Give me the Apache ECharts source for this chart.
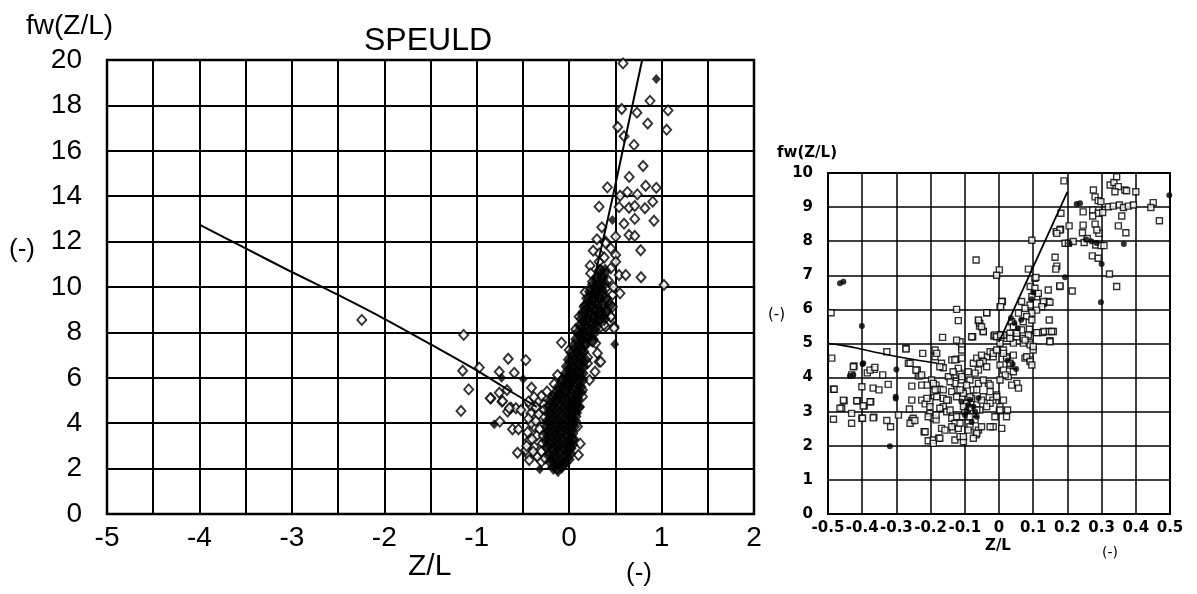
<!DOCTYPE html>
<html><head><meta charset="utf-8">
<script src="https://cdn.jsdelivr.net/npm/echarts@6/dist/echarts.min.js"></script>
<style>html,body{margin:0;padding:0;background:#fff}#c{width:1197px;height:594px}</style>
</head><body><div id="c"></div>
<script>
// ---- Left panel (SPEULD, full range) ----
const leftXTicks = [-5,-4,-3,-2,-1,0,1,2];
const leftYTicks = [0,2,4,6,8,10,12,14,16,18,20];
const leftOpen = [
[0.583,19.85],[0.875,18.2],[0.569,17.84],[0.734,17.68],[1.07,17.78],[0.85,17.2],[1.055,16.93],[0.526,17.05],
[0.594,16.64],[0.702,16.26],[0.80,15.33],[0.65,14.85],[0.414,14.39],[0.828,14.46],[0.943,14.37],[0.63,14.18],
[0.551,14.02],[0.738,14.08],[0.904,13.76],[0.324,13.54],[0.54,13.52],[0.648,13.49],[0.71,13.57],[0.82,13.47],
[0.918,12.92],[0.594,12.79],[0.71,13.0],[0.353,12.63],[0.648,12.29],[0.71,12.25],[0.504,12.22],[0.774,11.62],
[0.395,12.0],[0.45,11.7],[0.504,11.41],[0.227,10.94],[0.324,11.11],[0.342,10.75],[0.45,10.82],[0.504,11.11],
[0.54,10.53],[0.612,10.53],[0.778,10.43],[1.026,10.09],[0.173,9.77],[0.55,9.72],[0.252,10.23],[0.288,9.94],
[0.395,9.94],[0.468,9.65],[0.233,10.6],[0.324,11.48],[0.395,11.93],[0.45,8.69],[0.486,8.25],[0.108,8.69],
[0.162,9.13],[0.252,9.43],[0.324,8.84],[0.395,8.25],[0.468,9.13],[0.486,8.18],[0.342,8.25],[0.288,7.52],
[0.306,7.08],[0.324,6.71],[0.28,6.27],[0.18,7.52],[0.198,6.64],[0.126,7.22],[0.144,5.46],[0.108,6.2],
[0.083,8.03],[-0.083,7.55],[0.0,7.22],[-1.141,7.89],[-1.152,6.31],[-0.972,6.45],[-1.087,5.49],[-1.17,4.54],
[-0.659,6.84],[-0.468,6.78],[-0.756,6.27],[-0.594,6.22],[-0.407,5.56],[-0.673,5.46],[-0.846,5.1],[-0.727,4.95],
[-0.63,4.68],[-0.576,4.66],[-0.522,4.58],[-0.666,4.51],[-0.75,4.07],[-0.613,3.73],[-0.548,3.73],[-0.559,2.7],
[-0.451,2.64],[-0.36,2.6],[-0.126,2.01],[-2.243,8.55],[-0.853,5.1],[-0.756,5.34],[-0.72,4.98],[-0.648,4.66],
[-0.126,6.12],[-0.072,5.9],[-0.162,5.73],[0.072,8.14],[0.144,8.77],[0.18,8.99],[0.252,7.59],[0.342,6.71],
[0.45,8.69],[0.342,8.55],[0.378,8.33],[0.144,5.17],[0.108,4.73],[0.072,4.29],[0.09,3.85],[0.036,3.26],
[0.018,2.89],[-0.27,4.29],[-0.288,4.88],[-0.324,4.58],[-0.414,4.44],[-0.378,3.85],[-0.432,3.26],[-0.468,2.82],
[-0.432,2.38],[-0.342,2.52],[-0.378,2.96],[-0.288,3.11],[-0.18,5.17],[-0.108,5.24],[-0.144,5.02],[-0.41,4.0],
[-0.35,3.45],[-0.45,3.6],[-0.3,2.3],[-0.42,4.8],[-0.33,5.0],[0.12,3.1],[0.1,2.6],[0.08,4.9],[0.2,6.9],
[0.22,5.9],[0.36,9.6],[0.42,10.3],[0.48,10.0],[0.3,12.1],[0.38,11.3],[0.26,11.6],
[-0.44,4.2],[-0.4,3.3],[-0.36,4.1],[-0.32,3.75],[-0.3,2.75],[-0.28,3.45],[-0.39,2.75],[-0.46,3.0],
[-0.33,4.4],[-0.27,4.6],[-0.36,4.7],[-0.3,5.2],[-0.24,5.4],[-0.26,2.45],[-0.44,4.95],[-0.38,5.15]
];
const leftCore = [
[-0.17,2.05],[-0.12,1.95],[-0.08,2.1],
[-0.2,2.3],[-0.15,2.35],[-0.1,2.3],[-0.05,2.25],[-0.01,2.4],
[-0.22,2.6],[-0.16,2.6],[-0.1,2.7],[-0.04,2.6],[0.01,2.65],
[-0.24,2.95],[-0.18,2.9],[-0.12,2.95],[-0.06,2.9],[0.0,2.95],[0.03,3.05],
[-0.25,3.25],[-0.19,3.2],[-0.13,3.2],[-0.07,3.25],[-0.01,3.2],[0.04,3.3],
[-0.24,3.55],[-0.19,3.5],[-0.14,3.5],[-0.09,3.55],[-0.03,3.5],[0.03,3.55],
[-0.24,3.85],[-0.18,3.8],[-0.12,3.8],[-0.06,3.85],[0.0,3.8],[0.05,3.85],
[-0.23,4.1],[-0.17,4.15],[-0.11,4.1],[-0.05,4.1],[0.01,4.15],[0.06,4.1],
[-0.22,4.45],[-0.16,4.4],[-0.1,4.4],[-0.04,4.45],[0.02,4.4],[0.07,4.45],
[-0.22,4.7],[-0.16,4.7],[-0.1,4.75],[-0.04,4.7],[0.02,4.7],[0.07,4.75],[0.1,4.7],
[-0.2,5.0],[-0.14,5.0],[-0.08,5.05],[-0.02,5.0],[0.04,5.0],[0.09,5.05],
[-0.15,5.3],[-0.1,5.3],[-0.04,5.35],[0.02,5.3],[0.08,5.3],[0.12,5.35],
[-0.11,5.6],[-0.06,5.6],[0.0,5.65],[0.06,5.6],[0.12,5.6],
[-0.07,5.9],[-0.02,5.9],[0.04,5.95],[0.1,5.9],[0.14,5.9],
[-0.03,6.2],[0.02,6.2],[0.08,6.25],[0.14,6.2],
[-0.02,6.5],[0.04,6.5],[0.1,6.55],[0.15,6.5],
[0.0,6.8],[0.06,6.8],[0.12,6.85],[0.17,6.8],
[0.03,7.1],[0.09,7.1],[0.15,7.15],
[0.05,7.4],[0.11,7.4],[0.17,7.45],
[0.08,7.7],[0.14,7.7],[0.2,7.75],[0.25,7.7],
[0.1,8.0],[0.16,8.0],[0.22,8.05],[0.27,8.0],
[0.12,8.3],[0.18,8.3],[0.24,8.35],[0.3,8.3],
[0.14,8.6],[0.2,8.6],[0.26,8.65],[0.32,8.6],[0.38,8.6],
[0.16,8.9],[0.22,8.9],[0.28,8.95],[0.34,8.9],[0.4,8.9],
[0.18,9.2],[0.24,9.2],[0.3,9.25],[0.36,9.2],[0.44,9.2],
[0.2,9.5],[0.26,9.5],[0.32,9.55],[0.4,9.5],
[0.23,9.8],[0.29,9.8],[0.35,9.85],
[0.26,10.1],[0.32,10.1],[0.38,10.15],
[0.3,10.4],[0.36,10.4],
[0.33,10.7],[0.39,10.7]
];
const leftFilled = [[0.943,19.16],[0.468,12.95],[-0.731,6.0],[-0.497,5.95],[-0.81,3.95],[-0.318,1.97],[0.493,7.48]];
const leftUnstableCurve = [[-4,12.75],[-3.5,11.7],[-3,10.66],[-2.5,9.65],[-2,8.6],[-1.5,7.48],[-1,6.33],[-0.6,5.32],[-0.35,4.72]];
const leftStableCurve = [[0,5.3],[0.216,9.35],[0.468,13.9],[0.79,20]];

// ---- Right panel (zoom on -0.5..0.5) ----
const rightXTicks = [-0.5,-0.4,-0.3,-0.2,-0.1,0,0.1,0.2,0.3,0.4,0.5];
const rightYTicks = [0,1,2,3,4,5,6,7,8,9,10];
const rightOpen = [
[-0.491,5.9],[-0.489,4.57],[-0.328,4.76],[-0.272,4.86],[-0.223,4.71],[-0.187,4.81],[-0.187,4.61],[-0.165,5.18],
[-0.124,6.0],[-0.119,5.67],[-0.067,7.45],[-0.036,5.9],[-0.06,5.67],[-0.057,5.51],[-0.046,5.35],[-0.077,5.2],
[-0.114,5.05],[-0.109,4.9],[0.001,7.16],[0.01,6.23],[0.003,6.08],[-0.015,5.22],[0.096,8.03],[0.086,7.18],
[0.105,6.91],[0.144,6.57],[0.129,6.18],[0.144,6.23],[0.11,6.37],[0.147,5.69],[0.159,5.35],[0.144,5.35],
[0.128,5.32],[0.149,5.08],[0.164,7.53],[0.169,7.27],[0.166,7.18],[0.178,6.67],[0.214,6.54],[0.167,8.28],
[0.18,8.35],[0.181,8.82],[0.19,9.77],[0.205,8.45],[0.193,7.94],[0.203,7.94],[0.217,7.99],[0.246,8.86],
[0.274,8.91],[0.29,8.82],[0.303,8.84],[0.274,8.74],[0.244,8.25],[0.249,7.96],[0.258,8.08],[0.283,7.89],
[0.298,7.87],[0.307,7.87],[0.246,8.47],[0.281,8.5],[0.292,8.23],[0.286,8.33],[0.273,7.57],[0.29,7.5],
[0.323,7.04],[0.344,6.67],[0.349,8.45],[0.371,8.25],[0.276,9.5],[0.281,9.3],[0.29,9.19],[0.298,9.16],
[0.325,9.65],[0.336,9.72],[0.344,9.89],[0.349,9.6],[0.339,9.45],[0.368,9.5],[0.373,9.48],[0.4,9.45],
[0.32,9.01],[0.334,9.03],[0.352,9.06],[0.364,8.99],[0.378,9.03],[0.393,9.06],[0.359,8.74],[0.451,9.13],
[0.444,8.99],[0.469,8.6],[0.178,8.33],[0.169,8.23],[0.108,6.94],[0.178,6.69],[0.091,6.67],[0.105,6.62],
[0.115,6.47],[0.096,6.37],[0.13,6.23],[0.149,6.21],[0.125,6.08],[0.11,5.98],[0.091,6.13],[0.076,6.03],
[0.066,6.23],[0.096,5.89],[0.081,5.79],[0.096,5.69],[0.071,5.64],[0.057,5.89],[0.008,6.23],[0.005,6.08],
[0.154,5.35],[0.13,5.35],[0.115,5.32],[0.089,5.42],[0.091,5.2],[0.149,5.05],[0.037,5.64],[0.042,5.49],
[0.032,5.3],[0.052,5.2],[0.066,5.4],[0.042,5.01],[0.023,5.15],[0.008,5.25],[-0.012,5.25],[0.003,5.01],
[0.071,5.01],[0.091,4.96],[0.1,4.81],[0.076,4.57],[0.091,4.52],[0.042,4.66],[0.023,4.61],[0.032,4.37],
[0.003,4.37],[-0.017,4.61],[-0.036,4.61],[-0.051,4.52],[-0.056,5.59],[-0.046,5.35],
[-0.484,3.66],[-0.484,2.78],[-0.46,3.1],[-0.453,3.32],[-0.431,2.95],[-0.431,2.66],[-0.424,4.34],[-0.401,3.73],
[-0.414,3.32],[-0.394,3.17],[-0.401,2.81],[-0.375,3.29],[-0.385,4.14],[-0.365,4.24],[-0.368,3.69],[-0.351,3.64],
[-0.366,2.84],[-0.34,4.08],[-0.328,2.74],[-0.317,2.56],[-0.324,3.8],[-0.294,2.9],[-0.262,3.08],[-0.255,3.34],
[-0.255,2.74],[-0.251,2.81],[-0.265,4.42],[-0.241,4.22],[-0.236,4.05],[-0.255,3.75],[-0.226,3.34],[-0.216,3.23],
[-0.202,3.29],[-0.211,3.39],[-0.219,2.41],[-0.207,2.15],[-0.192,2.17],[-0.177,2.22],[-0.202,2.95],[-0.192,2.81],
[-0.184,2.76],[-0.197,3.93],[-0.184,3.78],[-0.173,3.66],[-0.192,3.59],[-0.182,4.71],[-0.168,4.42],[-0.163,4.29],
[-0.163,3.39],[-0.148,3.34],[-0.163,3.15],[-0.153,3.0],[-0.168,2.51],[-0.158,2.46],[-0.138,4.52],[-0.124,4.54],
[-0.109,4.57],[-0.143,4.03],[-0.129,3.83],[-0.124,3.64],[-0.138,3.59],[-0.109,3.93],[-0.114,4.13],[-0.119,4.27],
[-0.124,3.44],[-0.104,3.54],[-0.138,2.81],[-0.129,2.66],[-0.135,2.46],[-0.129,2.17],[-0.114,2.27],[-0.104,2.12],
[-0.119,2.51],[-0.109,2.85],[-0.095,3.25],[-0.085,3.1],[-0.075,2.95],[-0.08,3.39],[-0.065,3.2],[-0.09,2.85],
[-0.07,2.76],[-0.06,2.46],[-0.067,2.32],[-0.085,2.56],[-0.056,3.05],[-0.046,3.44],[-0.1,3.05],[-0.075,3.64],
[-0.06,3.83],[-0.085,3.93],[-0.075,4.42],[-0.065,4.57],[-0.051,4.66],[-0.046,4.47],[-0.036,4.32],[-0.06,4.22],
[-0.031,3.83],[-0.026,3.59],[-0.018,3.34],[-0.007,3.49],[0.003,3.15],[0.001,3.03],[0.025,3.05],[0.022,2.85],
[0.008,2.51],[-0.017,2.56],[-0.026,3.25],[-0.007,5.2],[0.013,5.25],[0.032,5.15],[0.052,5.3],[0.071,5.15],
[0.086,5.25],[0.11,5.32],[0.013,4.81],[0.022,4.57],[0.032,4.42],[0.013,4.22],[0.027,4.03],[0.042,4.17],
[0.052,3.83],[0.057,3.69],[0.037,3.78],[0.018,4.08],[0.003,3.93],[0.076,5.1],[0.081,4.61],[0.091,4.47],
[0.1,4.91],[0.096,4.37],[-0.482,3.66],[-0.455,3.34],[-0.416,3.32],[-0.397,3.17],[-0.377,3.29],[-0.465,3.1],
[-0.399,2.81],[-0.368,2.82],[-0.272,4.84],[-0.26,4.42],[-0.239,4.22],[-0.231,4.05],[-0.226,3.78],[-0.21,3.78],
[-0.192,3.83],[-0.187,3.64],[-0.26,2.66],[-0.246,2.74],[-0.216,2.41],[-0.207,2.85],[-0.184,2.9],[-0.173,3.1],
[-0.202,3.15],[-0.192,2.07],[-0.173,2.22],[-0.124,5.1],[-0.109,4.81],[-0.129,4.52],[-0.08,5.2],[-0.06,5.69],
[-0.051,5.49],[-0.036,5.9],[-0.056,4.42],[-0.026,4.76],[-0.017,4.71],[-0.007,4.81],[0.005,5.25],[0.013,4.71],
[-0.007,7.0],[-0.173,4.32],[-0.148,4.03],[-0.134,4.17],[-0.143,3.88],[-0.109,4.03],[-0.095,3.78],[-0.114,3.64],
[-0.085,3.44],[-0.065,3.64],[-0.051,3.34],[-0.036,3.15],[-0.065,3.05],[-0.085,2.85],[-0.104,3.15],[-0.124,2.85],
[-0.143,3.05],[-0.153,3.34],[-0.163,3.64],[-0.182,3.44],[-0.138,2.56],[-0.114,2.66],[-0.09,2.46],[-0.065,2.37],
[-0.104,2.27],[-0.075,2.22],[-0.051,2.56],[-0.026,2.56],[-0.012,2.85],[0.003,3.05],[0.013,3.34],[-0.007,3.44],
[-0.026,3.78],[-0.046,3.93],[-0.07,4.13],[-0.09,4.17],[-0.426,4.32],[-0.431,4.08],[-0.377,4.22],[-0.363,4.3],
[-0.243,4.22],[-0.226,4.08]
];
const rightFilled = [
[-0.465,6.77],[-0.455,6.81],[-0.401,5.51],[-0.399,4.4],[-0.436,4.05],[-0.426,4.08],[-0.397,4.42],[-0.3,4.24],
[-0.302,3.44],[-0.302,3.39],[-0.319,1.99],[0.227,9.09],[0.237,9.11],[0.298,6.21],[0.3,7.33],[0.365,7.92],
[0.498,9.35],[0.193,6.94],[0.206,7.94],[0.035,5.75],[0.045,5.6],[0.055,5.45],[0.065,5.7],[0.1,6.5],[0.095,6.3],
[-0.09,3.2],[-0.07,3.0],[-0.08,2.7],[-0.06,3.4],[-0.1,2.9],[0.255,8.05],[0.27,8.0],[0.285,7.95],
[-0.085,3.35],[-0.075,3.15],[-0.095,3.05],[-0.065,2.85],[-0.11,3.3],[0.04,4.4],[0.05,4.25],[0.025,4.5]
];
const rightUnstableCurve = [[-0.5,5.0],[-0.45,4.93],[-0.4,4.83],[-0.35,4.72],[-0.3,4.62],[-0.25,4.53],[-0.2,4.45],[-0.18,4.42]];
const rightStableCurve = [[0.0,5.05],[0.1,7.25],[0.2,9.45]];

const chart = echarts.init(document.getElementById('c'), null, {renderer:'canvas'});
const LF = 'Liberation Sans, Arial, Helvetica, sans-serif';
const RF = 'DejaVu Sans, sans-serif';
function fmtRight(v){ if (Math.abs(v) < 1e-9) return '0'; return v.toFixed(1); }
const openDiamond = {color:'#fff', borderColor:'#000', borderWidth:1.9};
const openSquare = {color:'#fff', borderColor:'#000', borderWidth:1.4};

chart.setOption({
  animation:false,
  backgroundColor:'#fff',
  grid:[
    {left:107, top:60, width:647, height:454, show:true, borderColor:'#000', borderWidth:2.5, backgroundColor:'transparent'},
    {left:828, top:173, width:342, height:341, show:true, borderColor:'#000', borderWidth:2, backgroundColor:'transparent'}
  ],
  xAxis:[
    {gridIndex:0, type:'value', min:-5, max:2, interval:0.5,
     axisLine:{show:false}, axisTick:{show:false},
     splitLine:{show:true, lineStyle:{color:'#000', width:2}},
     axisLabel:{margin:10, fontSize:28, fontFamily:LF, color:'#000',
       formatter:v => leftXTicks.includes(v) ? String(v) : ''}},
    {gridIndex:1, type:'value', min:-0.5, max:0.5, interval:0.1,
     axisLine:{show:false}, axisTick:{show:false},
     splitLine:{show:true, lineStyle:{color:'#000', width:1.5}},
     axisLabel:{margin:7, fontSize:15, fontWeight:'bold', fontFamily:RF, color:'#000', hideOverlap:false,
       formatter:v => { const t = rightXTicks.find(k => Math.abs(k - v) < 1e-6); return t === undefined ? '' : fmtRight(t); }}}
  ],
  yAxis:[
    {gridIndex:0, type:'value', min:0, max:20, interval:2,
     axisLine:{show:false}, axisTick:{show:false},
     splitLine:{show:true, lineStyle:{color:'#000', width:2}},
     axisLabel:{margin:25, fontSize:28, fontFamily:LF, color:'#000',
       formatter:v => leftYTicks.includes(v) ? String(v) : ''}},
    {gridIndex:1, type:'value', min:0, max:10, interval:1,
     axisLine:{show:false}, axisTick:{show:false},
     splitLine:{show:true, lineStyle:{color:'#000', width:1.5}},
     axisLabel:{margin:15, fontSize:15, fontWeight:'bold', fontFamily:RF, color:'#000',
       formatter:v => rightYTicks.includes(v) ? String(v) : ''}}
  ],
  series:[
    {type:'line', xAxisIndex:0, yAxisIndex:0, data:leftUnstableCurve, showSymbol:false, symbol:'none', smooth:0.3, lineStyle:{color:'#000', width:2}, z:3},
    {type:'line', xAxisIndex:0, yAxisIndex:0, data:leftStableCurve, showSymbol:false, symbol:'none', lineStyle:{color:'#000', width:2}, z:3},
    {type:'scatter', xAxisIndex:0, yAxisIndex:0, data:leftOpen, symbol:'diamond', symbolSize:[9,10], itemStyle:openDiamond, z:2},
    {type:'scatter', xAxisIndex:0, yAxisIndex:0, data:leftCore, symbol:'diamond', symbolSize:[13,15], itemStyle:{color:'#000'}, z:2},
    {type:'scatter', xAxisIndex:0, yAxisIndex:0, data:leftFilled, symbol:'diamond', symbolSize:[9,10], itemStyle:{color:'#000'}, z:2},
    {type:'line', xAxisIndex:1, yAxisIndex:1, data:rightUnstableCurve, showSymbol:false, symbol:'none', smooth:true, lineStyle:{color:'#000', width:1.6}, z:3},
    {type:'line', xAxisIndex:1, yAxisIndex:1, data:rightStableCurve, showSymbol:false, symbol:'none', lineStyle:{color:'#000', width:1.8}, z:3},
    {type:'scatter', xAxisIndex:1, yAxisIndex:1, data:rightOpen, symbol:'rect', symbolSize:6, itemStyle:openSquare, z:2},
    {type:'scatter', xAxisIndex:1, yAxisIndex:1, data:rightFilled, symbol:'circle', symbolSize:6, itemStyle:{color:'#000'}, z:2}
  ],
  graphic:[
    {type:'text', left:26, top:12, style:{text:'fw(Z/L)', font:'28px '+LF, fill:'#000'}},
    {type:'text', left:364, top:25, style:{text:'SPEULD', font:'32px '+LF, fill:'#000'}},
    {type:'text', left:9, top:237, style:{text:'(-)', font:'26px '+LF, fill:'#000'}},
    {type:'text', left:408, top:552, style:{text:'Z/L', font:'30px '+LF, fill:'#000'}},
    {type:'text', left:626, top:561, style:{text:'(-)', font:'26px '+LF, fill:'#000'}},
    {type:'text', left:777, top:146, style:{text:'fw(Z/L)', font:'bold 15px '+RF, fill:'#000'}},
    {type:'text', left:768, top:308, style:{text:'(-)', font:'15px '+RF, fill:'#000'}},
    {type:'text', left:985, top:539, style:{text:'Z/L', font:'bold 15px '+RF, fill:'#000'}},
    {type:'text', left:1102, top:546, style:{text:'(-)', font:'14px '+RF, fill:'#000'}}
  ]
});
</script></body></html>
